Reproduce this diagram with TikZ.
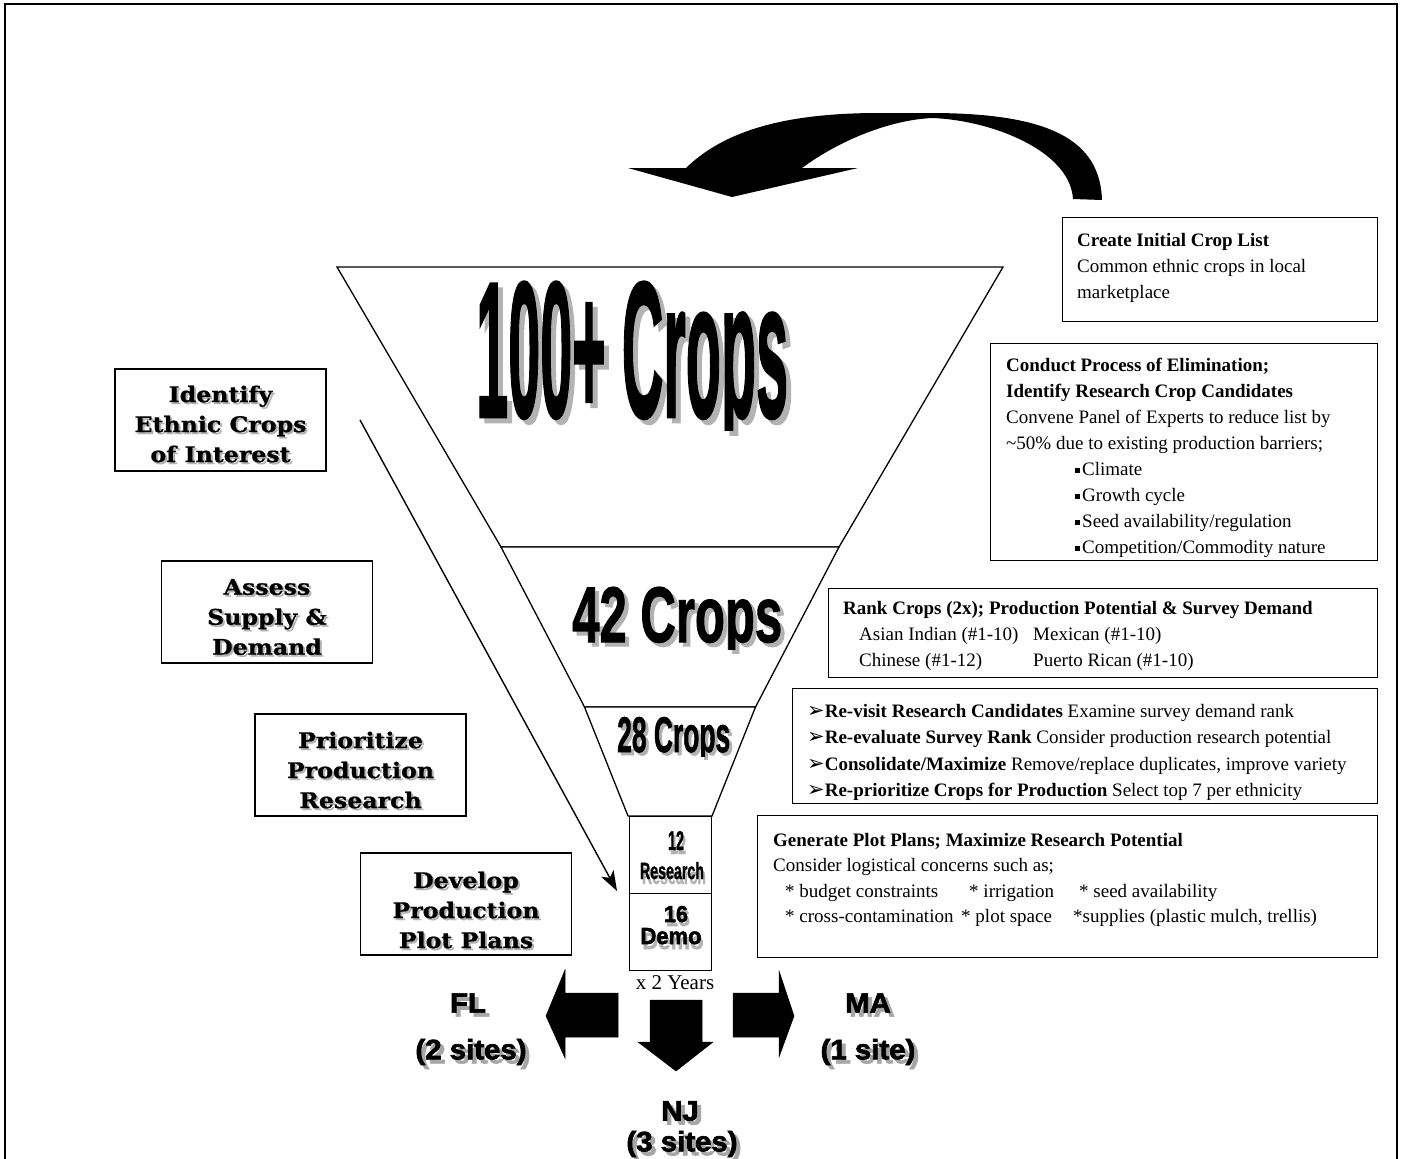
\documentclass[tikz,border=0pt]{standalone}
\usepackage{fontspec}
\usepackage{graphicx}
\setmainfont{Liberation Serif}
\newfontfamily\slabf{DejaVu Serif}[BoldFeatures={FakeStretch=1.1, FakeBold=0.8}]
\newfontfamily\heavyf{Liberation Sans}[BoldFeatures={FakeBold=1.5}]
\newfontfamily\blackf{Liberation Sans}[BoldFeatures={FakeBold=2.5, FakeStretch=1.05}]
\newfontfamily\symf{DejaVu Sans}
\usetikzlibrary{arrows.meta}
\newcommand{\bigword}[3]{\resizebox{#1pt}{#2pt}{\heavyf\bfseries #3}}
\newcommand{\bul}{\raisebox{3pt}{\rule{5pt}{5pt}}\hspace{2pt}}
\newcommand{\arr}{{\symf\fontsize{21}{21}\selectfont ➢}}
\tikzset{
  frameline/.style={line width=1.2},
  funnel/.style={draw, line width=1.3, fill=white, line join=miter},
  lbox/.style={draw, line width=1.3, minimum width=211, minimum height=102, inner sep=0},
  ltext/.style={align=center, font=\slabf\bfseries\fontsize{21.5}{30}\selectfont, inner sep=0},
  lshadow/.style={ltext, text=black!30},
  rbox/.style={draw, line width=1.2, anchor=north west, inner sep=0},
  rtext/.style={align=left, anchor=north west, inner sep=0, font=\fontsize{19}{26}\selectfont},
  bigt/.style={inner sep=0, anchor=base west},
  bigs/.style={bigt, text=black!30},
  cent/.style={inner sep=0, anchor=base},
  cents/.style={cent, text=black!30},
  site/.style={font=\blackf\bfseries\fontsize{28}{30}\selectfont, inner sep=0},
  sites/.style={site, text=black!35},
  block/.style={fill=black, draw=black, line width=0.5}
}
\begin{document}
\begin{tikzpicture}[x=1pt, y=-1pt]
\useasboundingbox (0,0) rectangle (1401,1159);
% frame
\draw[frameline] (5,1170) -- (5,4) -- (1397,4) -- (1397,1170);

% top curved arrow
\fill[black] (628,168) -- (686,168)
  .. controls (730,125) and (800,113) .. (880,113)
  -- (930,113)
  .. controls (1050,113) and (1100,140) .. (1102,200)
  -- (1073,199)
  .. controls (1070,150) and (990,120) .. (932,118)
  .. controls (890,120) and (840,140) .. (802,168)
  -- (858,168) -- (732,197) -- cycle;

% funnel
\draw[funnel] (337,267) -- (1003,267) -- (839,547) -- (501,547) -- cycle;
\draw[funnel] (501,547) -- (839,547) -- (755.5,707) -- (584.5,707) -- cycle;
\draw[funnel] (584.5,707) -- (755.5,707) -- (712,816) -- (628,816) -- cycle;
\node[draw, line width=1.3, minimum width=82, minimum height=77, inner sep=0, anchor=north west] (res) at (629,816) {};
\node[draw, line width=1.3, minimum width=82, minimum height=77, inner sep=0, anchor=north west] (demo) at (629,893) {};

% big funnel texts (descenders cut short, as in the condensed face)
\begin{scope}
  \clip (470,270) rectangle (810,435);
  \node[bigs] (c100s) at (481,422) {\bigword{312}{135}{100+ Crops}};
\end{scope}
\begin{scope}
  \clip (470,270) rectangle (810,430);
  \node[bigt] (c100) at (476,417) {\bigword{312}{135}{100+ Crops}};
\end{scope}
\begin{scope}
  \clip (560,570) rectangle (800,653);
  \node[bigs] (c42s) at (576,646) {\bigword{210}{55}{42 Crops}};
\end{scope}
\begin{scope}
  \clip (560,570) rectangle (800,649);
  \node[bigt] (c42) at (572,642) {\bigword{210}{55}{42 Crops}};
\end{scope}
\begin{scope}
  \clip (605,710) rectangle (745,759);
  \node[bigs] (c28s) at (620,755) {\bigword{113}{35}{28 Crops}};
\end{scope}
\begin{scope}
  \clip (605,710) rectangle (745,756);
  \node[bigt] (c28) at (617,752) {\bigword{113}{35}{28 Crops}};
\end{scope}
\node[cents] (n12s) at (678,854) {\bigword{16}{19}{12}};
\node[cent] (n12) at (676,850) {\bigword{16}{19}{12}};
\node[cents] (resTs) at (674,884) {\bigword{64}{17}{Research}};
\node[cent] (resT) at (672,879) {\bigword{64}{17}{Research}};
\node[cents] (n16s) at (678,926) {\resizebox{24pt}{16pt}{\blackf\bfseries 16}};
\node[cent] (n16) at (676,922) {\resizebox{24pt}{16pt}{\blackf\bfseries 16}};
\node[cents] (demoTs) at (673,949) {\resizebox{61pt}{16pt}{\blackf\bfseries Demo}};
\node[cent] (demoT) at (671,944) {\resizebox{61pt}{16pt}{\blackf\bfseries Demo}};
\node[cent, font=\fontsize{21}{21}\selectfont] (years) at (675,989) {x 2 Years};

% left labels
\node[lbox] (identify) at (220.5,420) {};
\node[lshadow] (identifyS) at ([shift={(2,6)}]identify.center) {Identify\\Ethnic Crops\\of Interest};
\node[ltext] (identifyT) at ([shift={(0,4)}]identify.center) {Identify\\Ethnic Crops\\of Interest};
\node[lbox] (assess) at (267,612) {};
\node[lshadow] (assessS) at ([shift={(2,7)}]assess.center) {Assess\\Supply \&\\Demand};
\node[ltext] (assessT) at ([shift={(0,5)}]assess.center) {Assess\\Supply \&\\Demand};
\node[lbox] (prior) at (360.5,765) {};
\node[lshadow] (priorS) at ([shift={(2,7)}]prior.center) {Prioritize\\Production\\Research};
\node[ltext] (priorT) at ([shift={(0,5)}]prior.center) {Prioritize\\Production\\Research};
\node[lbox] (develop) at (466,904) {};
\node[lshadow] (developS) at ([shift={(2,8)}]develop.center) {Develop\\Production\\Plot Plans};
\node[ltext] (developT) at ([shift={(0,6)}]develop.center) {Develop\\Production\\Plot Plans};

% thin arrow
\coordinate (arrS) at (360,420);
\coordinate (arrE) at (617,891);
\draw[line width=1.4, -{Stealth[length=20, width=14, inset=5]}] (arrS) -- (arrE);

% right boxes
\node[rbox, minimum width=315, minimum height=104] (create) at (1062,217) {};
\node[rtext] (createT) at ([shift={(15,16)}]create.north west)
  {\textbf{Create Initial Crop List}\\Common ethnic crops in local\\marketplace};

\node[rbox, minimum width=387, minimum height=217] (conduct) at (990,343) {};
\node[rtext] (conductT) at ([shift={(16,15)}]conduct.north west)
  {\textbf{Conduct Process of Elimination;}\\
   \textbf{Identify Research Crop Candidates}\\
   Convene Panel of Experts to reduce list by\\
   \textasciitilde50\% due to existing production barriers;\\
   \hspace{69pt}\bul Climate\\
   \hspace{69pt}\bul Growth cycle\\
   \hspace{69pt}\bul Seed availability/regulation\\
   \hspace{69pt}\bul Competition/Commodity nature};

\node[rbox, minimum width=549, minimum height=89] (rank) at (828,588) {};
\node[rtext] (rankT) at ([shift={(15,13)}]rank.north west)
  {\textbf{Rank Crops (2x); Production Potential \& Survey Demand}\\
   \hspace{16pt}\makebox[174pt][l]{Asian Indian (\#1-10)}Mexican (\#1-10)\\
   \hspace{16pt}\makebox[174pt][l]{Chinese (\#1-12)}Puerto Rican (\#1-10)};

\node[rbox, minimum width=585, minimum height=115] (revisit) at (792,688) {};
\node[rtext, font=\fontsize{19}{26.5}\selectfont] (revisitT) at ([shift={(15,16)}]revisit.north west)
  {\arr\textbf{Re-visit Research Candidates} Examine survey demand rank\\
   \arr\textbf{Re-evaluate Survey Rank} Consider production research potential\\
   \arr\textbf{Consolidate/Maximize} Remove/replace duplicates, improve variety\\
   \arr\textbf{Re-prioritize Crops for Production} Select top 7 per ethnicity};

\node[rbox, minimum width=620, minimum height=142] (generate) at (757,815) {};
\node[rtext, font=\fontsize{19}{25.5}\selectfont] (generateT) at ([shift={(16,18)}]generate.north west)
  {\textbf{Generate Plot Plans; Maximize Research Potential}\\
   Consider logistical concerns such as;\\
   \hspace{12pt}\makebox[184pt][l]{* budget constraints}\makebox[110pt][l]{* irrigation}* seed availability\\
   \hspace{12pt}\makebox[176pt][l]{* cross-contamination}\makebox[112pt][l]{* plot space}*supplies (plastic mulch, trellis)};

% bottom block arrows
\filldraw[block] (546,1016) -- (565,970) -- (565,993) -- (618,993) -- (618,1037) -- (565,1037) -- (565,1058) -- cycle;
\filldraw[block] (794,1016) -- (779,971) -- (779,993) -- (733,993) -- (733,1037) -- (779,1037) -- (779,1057) -- cycle;
\filldraw[block] (650,1000) -- (702,1000) -- (702,1042) -- (713,1042) -- (676,1071) -- (638,1042) -- (650,1042) -- cycle;

% site labels
\node[sites] (flS) at (472,1007) {FL};
\node[site] (fl) at (468,1003) {FL};
\node[sites] (fl2S) at (475,1056) {(2 sites)};
\node[site] (fl2) at (471,1052) {(2 sites)};
\node[sites] (maS) at (872,1007) {MA};
\node[site] (ma) at (868,1003) {MA};
\node[sites] (ma1S) at (872,1056) {(1 site)};
\node[site] (ma1) at (868,1052) {(1 site)};
\node[sites] (njS) at (684,1115) {NJ};
\node[site] (nj) at (680,1111) {NJ};
\node[sites] (nj3S) at (686,1148) {(3 sites)};
\node[site] (nj3) at (682,1144) {(3 sites)};
\end{tikzpicture}
\end{document}
